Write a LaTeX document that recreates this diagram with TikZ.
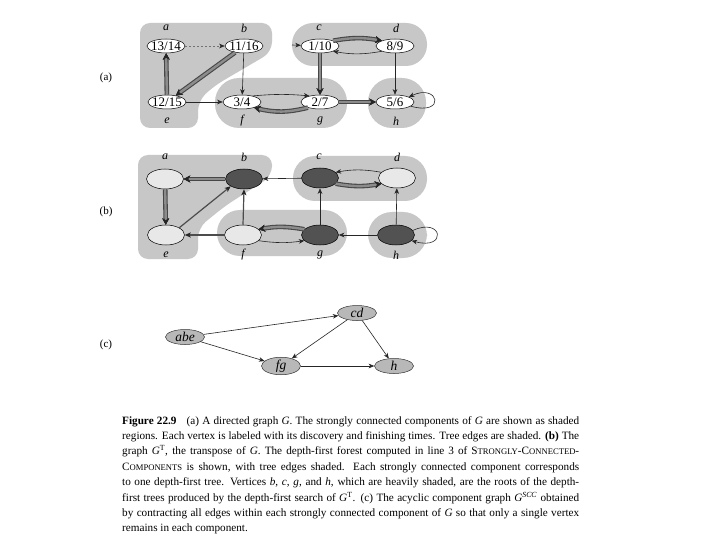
\documentclass[tikz,border=0pt]{standalone}
\usepackage{fontspec}
\setmainfont{Liberation Serif}
\usetikzlibrary{arrows.meta,shapes.geometric}
\newcommand{\fsc}[1]{{\fontsize{8.6}{10}\selectfont #1}}
\tikzset{
  x=1pt, y=1pt,
  vtx/.style={ellipse, draw=black, line width=0.5pt, fill=white, minimum width=38pt, minimum height=14pt, inner sep=0pt, font=\fontsize{13}{13}\selectfont},
  vlight/.style={ellipse, draw=black, line width=0.5pt, fill=black!9, minimum width=37pt, minimum height=20pt, inner sep=0pt},
  vdark/.style={ellipse, draw=black, line width=0.5pt, fill=black!68, minimum width=37pt, minimum height=20pt, inner sep=0pt},
  cvtx/.style={ellipse, draw=black!80, line width=0.5pt, fill=black!28, minimum width=39pt, minimum height=15pt, inner sep=0pt, font=\itshape\fontsize{13.5}{13.5}\selectfont},
  region/.style={fill=black!22, draw=none},
  lbl/.style={font=\itshape\fontsize{12}{12}\selectfont, inner sep=0pt},
  partlbl/.style={font=\fontsize{11}{11}\selectfont, inner sep=0pt},
  thinedge/.style={draw=black!85, line width=0.6pt, -{Stealth[length=5.5pt,width=4.5pt,inset=1.5pt,black!85]}},
  boldthin/.style={draw=black!70, line width=1.2pt, -{Stealth[length=6pt,width=5pt,inset=1.5pt,black!85]}},
  treeedge/.style={draw=black!45, line width=2.4pt, preaction={draw=black!72, line width=4.6pt}, -{Stealth[length=6.5pt,width=7pt,inset=2pt,line width=0.3pt,black!85]}},
  dotedge/.style={thinedge, draw=black!55, dash pattern=on 2pt off 2pt},
}
\begin{document}
\begin{tikzpicture}
\useasboundingbox[fill=white] (0,0) rectangle (720,-540);

% ---------------- (a) ----------------
\fill[region, rounded corners=10pt] (140,-23) -- (272,-23) -- (272,-52) -- (214,-86) -- (198,-101) -- (198,-128) -- (140,-128) -- cycle;
\fill[region, rounded corners=21pt] (292,-23) rectangle (427,-66);
\fill[region, rounded corners=24pt] (215,-78) rectangle (347,-128);
\fill[region, rounded corners=24pt] (368,-78) rectangle (426,-128);

\node[partlbl] (pa) at (106,-78) {(a)};

\node[vtx] (nAa) at (166,-46) {\makebox[0pt]{13/14}};
\node[vtx] (nAb) at (244,-46) {\makebox[0pt]{11/16}};
\node[vtx] (nAc) at (320,-46) {\makebox[0pt]{1/10}};
\node[vtx] (nAd) at (395,-46) {\makebox[0pt]{8/9}};
\node[vtx] (nAe) at (167,-102) {\makebox[0pt]{12/15}};
\node[vtx] (nAf) at (242,-102) {\makebox[0pt]{3/4}};
\node[vtx] (nAg) at (320,-102) {\makebox[0pt]{2/7}};
\node[vtx] (nAh) at (395,-102) {\makebox[0pt]{5/6}};

\node[lbl] (lAa) at (166,-28) {a};
\node[lbl] (lAb) at (244,-28) {b};
\node[lbl] (lAc) at (319,-28) {c};
\node[lbl] (lAd) at (396,-28) {d};
\node[lbl] (lAe) at (167,-121) {e};
\node[lbl] (lAf) at (242,-121) {f};
\node[lbl] (lAg) at (320,-121) {g};
\node[lbl] (lAh) at (396,-121) {h};

\draw[dotedge] (nAa) -- (nAb);
\draw[treeedge] (nAe) -- (nAa);
\draw[treeedge] (nAb) -- (nAe);
\draw[thinedge] (nAb) -- (nAf);
\draw[thinedge] (nAe) -- (nAf);
\draw[thinedge] (nAf.30) to[bend left=5] (nAg.150);
\draw[treeedge] (nAg.205) to[bend left=14] (nAf.335);
\draw[treeedge] (nAc) -- (nAg);
\draw[treeedge] (nAc.22) to[bend left=10] (nAd.158);
\draw[thinedge] (nAd.202) to[bend left=10] (nAc.338);
\draw[thinedge] (nAd) -- (nAh);
\draw[treeedge] (nAg) -- (nAh);
\draw[thinedge] (nAh.-15) .. controls +(36,-10) and +(30,14) .. (nAh.20);
\coordinate (cin) at (292,-45);
\draw[thinedge] (cin) -- (nAc);

% ---------------- (b) ----------------
\fill[region, rounded corners=10pt] (138,-155) -- (272,-155) -- (272,-176) -- (225,-206) -- (198,-228) -- (198,-259) -- (138,-259) -- cycle;
\fill[region, rounded corners=22pt] (293,-156) rectangle (427,-201);
\fill[region, rounded corners=23pt] (217,-210) rectangle (347,-256);
\fill[region, rounded corners=24pt] (368,-212) rectangle (427,-258);

\node[partlbl] (pb) at (106,-212) {(b)};

\node[vlight] (nBa) at (165,-179) {};
\node[vdark]  (nBb) at (244,-179) {};
\node[vdark]  (nBc) at (320,-178) {};
\node[vlight] (nBd) at (397,-178) {};
\node[vlight] (nBe) at (166,-235) {};
\node[vlight] (nBf) at (243,-235) {};
\node[vdark]  (nBg) at (320,-235) {};
\node[vdark]  (nBh) at (396,-235) {};

\node[lbl] (lBa) at (165,-157) {a};
\node[lbl] (lBb) at (244,-157) {b};
\node[lbl] (lBc) at (319,-157) {c};
\node[lbl] (lBd) at (397,-157) {d};
\node[lbl] (lBe) at (166,-255) {e};
\node[lbl] (lBf) at (243,-255) {f};
\node[lbl] (lBg) at (320,-255) {g};
\node[lbl] (lBh) at (396,-255) {h};

\draw[treeedge] (nBb) -- (nBa);
\draw[treeedge] (nBa) -- (nBe);
\draw[thinedge] (nBc) -- (nBb);
\draw[treeedge] (nBg.160) to[bend right=10] (nBf.20);
\draw[thinedge] (nBf.340) to[bend right=8] (nBg.200);
\draw[thinedge] (nBg) -- (nBc);
\draw[treeedge] (nBc.340) to[bend right=10] (nBd.200);
\draw[thinedge] (nBd.160) to[bend right=10] (nBc.20);
\draw[thinedge] (nBh) -- (nBg);
\draw[thinedge] (nBh) -- (nBd);
\draw[thinedge] (nBh.15) .. controls +(30,14) and +(36,-10) .. (nBh.-20);
\draw[boldthin] (nBf) -- (nBe);

% ---------------- (c) ----------------
\node[partlbl] (pc) at (106,-345) {(c)};
\node[cvtx] (nCabe) at (185,-337) {abe};
\node[cvtx] (nCcd)  at (357,-313) {cd};
\node[cvtx] (nCfg)  at (281,-366) {fg};
\node[cvtx] (nCh)   at (394,-366) {h};

\draw[thinedge] (nCabe) -- (nCcd);
\draw[thinedge] (nCabe) -- (nCfg);
\draw[thinedge] (nCcd) -- (nCfg);
\draw[thinedge] (nCcd) -- (nCh);
\draw[thinedge] (nCfg) -- (nCh);

% ---------------- caption ----------------
\node[anchor=north west, inner sep=0pt] (cap) at (122,-416) {\parbox{457pt}{\fontsize{11.2}{15.4}\selectfont
\textbf{Figure 22.9}\hspace{0.9em}(a) A directed graph \textit{G}. The strongly connected components of \textit{G} are shown as shaded\linebreak
regions. Each vertex is labeled with its discovery and finishing times. Tree edges are shaded. \textbf{(b)} The\linebreak
graph \textit{G}\textsuperscript{T}, the transpose of \textit{G}. The depth-first forest computed in line 3 of S\fsc{TRONGLY}-C\fsc{ONNECTED}-\linebreak
C\fsc{OMPONENTS} is shown, with tree edges shaded. Each strongly connected component corresponds\linebreak
to one depth-first tree. Vertices \textit{b}, \textit{c}, \textit{g}, and \textit{h}, which are heavily shaded, are the roots of the depth-\linebreak
first trees produced by the depth-first search of \textit{G}\textsuperscript{T}. (c) The acyclic component graph \textit{G}\textsuperscript{\textit{SCC}} obtained\linebreak
by contracting all edges within each strongly connected component of \textit{G} so that only a single vertex\linebreak
remains in each component.}};

% edges drawn last so that nothing covers them
\draw[boldthin] (nBe.north east) -- (nBb.south west);
\draw[boldthin] (nBf.north) -- (nBb.south);
\end{tikzpicture}
\end{document}
